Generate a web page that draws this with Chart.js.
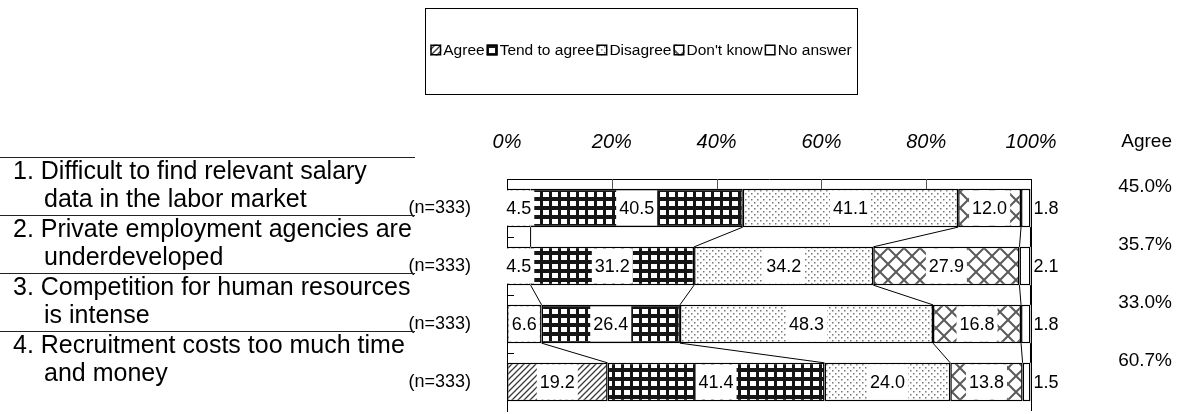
<!DOCTYPE html>
<html>
<head>
<meta charset="utf-8">
<script src="https://cdn.jsdelivr.net/npm/chart.js@4.4.0/dist/chart.umd.min.js"></script>
<style>
  html, body { margin: 0; padding: 0; background: #ffffff; }
  canvas { display: block; }
</style>
</head>
<body>
<canvas id="c" width="1197" height="414"></canvas>
<script>
// ---- data ----
const categories = ['(n=333)', '(n=333)', '(n=333)', '(n=333)'];
const itemLabels = [
  ['1. Difficult to find relevant salary', 'data in the labor market'],
  ['2. Private employment agencies are', 'underdeveloped'],
  ['3. Competition for human resources', 'is intense'],
  ['4. Recruitment costs too much time', 'and money']
];
const seriesNames = ['Agree', 'Tend to agree', 'Disagree', "Don't know", 'No answer'];
const agree       = [4.5, 4.5, 6.6, 19.2];
const tendToAgree = [40.5, 31.2, 26.4, 41.4];
const disagree    = [41.1, 34.2, 48.3, 24.0];
const dontKnow    = [12.0, 27.9, 16.8, 13.8];
const noAnswer    = [1.8, 2.1, 1.8, 1.5];
const agreeTotals = ['45.0%', '35.7%', '33.0%', '60.7%'];
const xTickValues = [0, 20, 40, 60, 80, 100];

const FONT = '"Liberation Sans", Arial, Helvetica, sans-serif';
const canvas = document.getElementById('c');
const ctx0 = canvas.getContext('2d');

// ---- fill patterns ----
function tile(w, h, paint) {
  const c = document.createElement('canvas');
  c.width = w; c.height = h;
  const g = c.getContext('2d');
  g.fillStyle = '#ffffff';
  g.fillRect(0, 0, w, h);
  paint(g, w, h);
  return ctx0.createPattern(c, 'repeat');
}
const fills = [
  // diagonal hatch
  tile(6, 6, g => {
    g.strokeStyle = '#3a3a3a'; g.lineWidth = 1.3;
    g.beginPath();
    g.moveTo(-1, 7); g.lineTo(7, -1);
    g.moveTo(-1, 1); g.lineTo(1, -1);
    g.moveTo(5, 7); g.lineTo(7, 5);
    g.stroke();
  }),
  // heavy grid
  tile(9, 9, g => {
    g.fillStyle = '#151515'; g.fillRect(0, 0, 9, 9);
    g.fillStyle = '#ffffff'; g.fillRect(3, 3, 6, 5);
  }),
  // sparse dots
  tile(6, 6, g => {
    g.fillStyle = '#777777';
    g.fillRect(1, 1, 1.5, 1.5);
    g.fillRect(4, 4, 1.5, 1.5);
  }),
  // diamond lattice
  tile(16, 16, g => {
    g.strokeStyle = '#5a5a5a'; g.lineWidth = 2;
    g.beginPath();
    g.moveTo(0, 0); g.lineTo(16, 16);
    g.moveTo(16, 0); g.lineTo(0, 16);
    g.stroke();
  }),
  '#ffffff'
];
const seriesValues = [agree, tendToAgree, disagree, dontKnow, noAnswer];

function barBox(chart, d, i) {
  const el = chart.getDatasetMeta(d).data[i];
  const p = el.getProps(['x', 'y', 'base', 'height'], true);
  return { x: p.x, y: p.y, base: p.base, h: p.height };
}

// ---- plugins ----
const topStripGrid = {
  id: 'topStripGrid',
  beforeDatasetsDraw(chart) {
    const { ctx, chartArea } = chart;
    const xs = chart.scales.x;
    const b = barBox(chart, 0, 0);
    const yTop = chartArea.top, yBot = b.y - b.h / 2;
    ctx.save();
    ctx.strokeStyle = '#555555'; ctx.lineWidth = 1;
    ctx.beginPath();
    [20, 40, 60, 80].forEach(v => {
      const x = Math.round(xs.getPixelForValue(v)) + 0.5;
      ctx.moveTo(x, yTop); ctx.lineTo(x, yBot);
    });
    ctx.stroke();
    ctx.restore();
  }
};

const seriesLines = {
  id: 'seriesLines',
  afterDatasetsDraw(chart) {
    const { ctx } = chart;
    const n = chart.data.labels.length;
    const nd = chart.data.datasets.length;
    ctx.save();
    ctx.strokeStyle = '#000000'; ctx.lineWidth = 1;
    ctx.beginPath();
    for (let i = 0; i < n - 1; i++) {
      for (let d = 0; d < nd; d++) {
        const a = barBox(chart, d, i), b = barBox(chart, d, i + 1);
        ctx.moveTo(a.x, a.y + a.h / 2);
        ctx.lineTo(b.x, b.y - b.h / 2);
      }
    }
    ctx.stroke();
    ctx.restore();
  }
};

const segmentLabels = {
  id: 'segmentLabels',
  afterDatasetsDraw(chart) {
    const { ctx } = chart;
    const last = chart.data.datasets.length - 1;
    ctx.save();
    ctx.font = '18px ' + FONT;
    ctx.textBaseline = 'middle';
    chart.data.datasets.forEach((ds, d) => {
      ds.data.forEach((v, i) => {
        const b = barBox(chart, d, i);
        const txt = v.toFixed(1);
        if (d === last) {
          ctx.fillStyle = '#000000';
          ctx.textAlign = 'left';
          ctx.fillText(txt, b.x + 3, b.y + 1);
          return;
        }
        const tw = ctx.measureText(txt).width;
        const cx = (b.x + b.base) / 2;
        ctx.fillStyle = '#ffffff';
        ctx.fillRect(cx - tw / 2 - 3, b.y - b.h / 2 + 1.5, tw + 6, b.h - 3);
        ctx.fillStyle = '#000000';
        ctx.textAlign = 'center';
        ctx.fillText(txt, cx, b.y + 1);
      });
    });
    ctx.restore();
  }
};

const frameAndText = {
  id: 'frameAndText',
  afterDraw(chart) {
    const { ctx, chartArea } = chart;
    const ys = chart.scales.y;
    ctx.save();

    // right edge of the plot frame
    ctx.strokeStyle = '#000000'; ctx.lineWidth = 1;
    ctx.beginPath();
    ctx.moveTo(Math.round(chartArea.right) + 0.5, chartArea.top);
    ctx.lineTo(Math.round(chartArea.right) + 0.5, chartArea.bottom);
    // inward category tick marks
    for (let k = 1; k < categories.length; k++) {
      const y = Math.round((ys.getPixelForValue(k - 1) + ys.getPixelForValue(k)) / 2) + 0.5;
      ctx.moveTo(chartArea.left, y); ctx.lineTo(chartArea.left + 7, y);
    }
    ctx.stroke();

    // statement column with rules
    ctx.fillStyle = '#000000';
    ctx.textBaseline = 'middle';
    ctx.textAlign = 'left';
    ctx.font = '25px ' + FONT;
    ctx.strokeStyle = '#222222';
    itemLabels.forEach((lines, i) => {
      const yc = ys.getPixelForValue(i);
      const ry = Math.round(yc - 51) + 0.5;
      ctx.beginPath(); ctx.moveTo(0, ry); ctx.lineTo(415, ry); ctx.stroke();
      ctx.fillText(lines[0], 13, yc - 36);
      ctx.fillText(lines[1], 44, yc - 8);
    });

    // agree totals column
    ctx.font = '19px ' + FONT;
    ctx.textAlign = 'right';
    ctx.fillText('Agree', 1172, 142);
    agreeTotals.forEach((t, i) => {
      ctx.fillText(t, 1172, ys.getPixelForValue(i) - 21);
    });

    // legend box
    ctx.font = '15.5px ' + FONT;
    const icon = 11, iconGap = 2, itemGap = 2;
    const widths = seriesNames.map(s => ctx.measureText(s).width);
    const total = widths.reduce((a, w) => a + icon + iconGap + w, 0) + itemGap * (seriesNames.length - 1);
    const boxX = 425, boxY = 8, boxW = 432, boxH = 86;
    ctx.strokeStyle = '#000000'; ctx.lineWidth = 1;
    ctx.strokeRect(boxX + 0.5, boxY + 0.5, boxW, boxH);
    let x = boxX + (boxW - total) / 2;
    const ly = 50;
    seriesNames.forEach((s, k) => {
      ctx.fillStyle = fills[k];
      ctx.fillRect(x, ly - icon / 2, icon, icon);
      ctx.lineWidth = 1.5; ctx.strokeStyle = '#000000';
      ctx.strokeRect(x + 0.75, ly - icon / 2 + 0.75, icon - 1.5, icon - 1.5);
      ctx.fillStyle = '#000000';
      ctx.textAlign = 'left';
      ctx.fillText(s, x + icon + iconGap, ly + 1);
      x += icon + iconGap + widths[k] + itemGap;
    });
    ctx.restore();
  }
};

// ---- chart ----
new Chart(canvas, {
  type: 'bar',
  data: {
    labels: categories,
    datasets: seriesNames.map((name, k) => ({
      label: name,
      data: seriesValues[k],
      backgroundColor: fills[k],
      borderColor: '#000000',
      borderWidth: 1.5,
      borderSkipped: false,
      barPercentage: 0.66,
      categoryPercentage: 1
    }))
  },
  options: {
    indexAxis: 'y',
    responsive: false,
    animation: false,
    devicePixelRatio: 1,
    layout: { padding: { left: 0, right: 166, top: 0, bottom: 3 } },
    plugins: { legend: { display: false }, tooltip: { enabled: false } },
    scales: {
      x: {
        position: 'top',
        stacked: true,
        min: 0, max: 100,
        afterBuildTicks(s) { s.ticks = xTickValues.map(v => ({ value: v })); },
        afterFit(s) { s.height = 179; s.paddingLeft = 0; s.paddingRight = 0; },
        ticks: {
          padding: 25, color: '#000000', maxRotation: 0, autoSkip: false,
          font: { family: FONT, size: 20, style: 'italic' },
          callback: v => v + '%'
        },
        grid: { display: false, drawTicks: false },
        border: { display: true, color: '#000000', width: 1 }
      },
      y: {
        stacked: true,
        afterFit(s) { s.width = 507; s.paddingTop = 0; s.paddingBottom = 0; },
        ticks: { padding: 36, color: '#000000', font: { family: FONT, size: 18 } },
        grid: { display: false, drawTicks: false },
        border: { display: true, color: '#000000', width: 1 }
      }
    }
  },
  plugins: [topStripGrid, seriesLines, segmentLabels, frameAndText]
});
</script>
</body>
</html>
